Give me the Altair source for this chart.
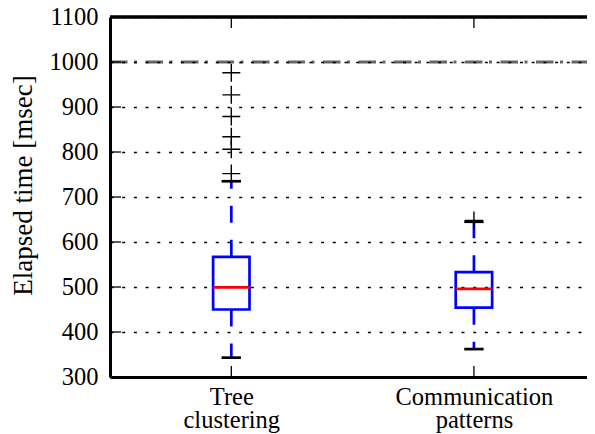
import altair as alt
import pandas as pd

# ---- data ----
categories = ["Tree clustering", "Communication patterns"]
positions = [1, 2]
q1 = [450, 454]
medians = [499, 496]
q3 = [567, 533]
whisker_low = [343, 362]
whisker_high = [735, 645]
fliers_tree = [752, 806, 834, 879, 927, 976]
fliers_comm = [648]
reference_level = [1000]
y_ticks = [300, 400, 500, 600, 700, 800, 900, 1000, 1100]

# ---- styling ----
W, H = 477, 360
FONT = "Liberation Serif"
BOX_HALF = 0.075
CAP_HALF = 0.04
LW = 2.7

boxes = pd.DataFrame({
    "cat": categories, "pos": positions, "q1": q1, "med": medians,
    "q3": q3, "lo": whisker_low, "hi": whisker_high,
})
boxes["xl"] = boxes["pos"] - BOX_HALF
boxes["xr"] = boxes["pos"] + BOX_HALF

whiskers = pd.concat([
    pd.DataFrame({"pos": positions, "start": q3, "end": whisker_high}),
    pd.DataFrame({"pos": positions, "start": q1, "end": whisker_low}),
], ignore_index=True)
whiskers["cl"] = whiskers["pos"] - CAP_HALF
whiskers["cr"] = whiskers["pos"] + CAP_HALF

fliers = pd.DataFrame({
    "pos": [positions[0]] * len(fliers_tree) + [positions[1]] * len(fliers_comm),
    "val": fliers_tree + fliers_comm,
})
ref = pd.DataFrame({"val": reference_level})
yt = pd.DataFrame({"val": y_ticks})
xt = pd.DataFrame({"pos": positions})

label_expr = ("datum.value == 1 ? ['Tree', 'clustering'] : "
              "(datum.value == 2 ? ['Communication', 'patterns'] : '')")

xscale = alt.Scale(domain=[0.5, 2.466], nice=False, zero=False)
yscale = alt.Scale(domain=[300, 1100], nice=False, zero=False)

xaxis = alt.Axis(values=positions, labelExpr=label_expr, title=None, grid=False,
                 tickSize=0, labelPadding=8, labelFont=FONT, labelFontSize=24.5,
                 labelColor="black", labelLineHeight=23, domainColor="black",
                 domainWidth=3)
yaxis = alt.Axis(values=y_ticks, format="d", title="Elapsed time [msec]", grid=True,
                 gridColor="black", gridDash=[3, 8.7], gridWidth=1.5,
                 gridOpacity=1, tickSize=0, labelPadding=12, labelFont=FONT,
                 labelFontSize=24.5, labelColor="black", titleFont=FONT,
                 titleFontSize=27, titleFontWeight="normal", titleColor="black",
                 titleX=-87, titleY=168, titleAngle=-90, titleAlign="center",
                 titleBaseline="middle", domainColor="black", domainWidth=3)

base_x = alt.X("pos:Q", scale=xscale, axis=xaxis)

grid_layer = alt.Chart(yt).mark_rule(opacity=0).encode(
    x=base_x, y=alt.Y("val:Q", scale=yscale, axis=yaxis))

ref_layer = alt.Chart(ref).mark_rule(
    color="black", opacity=0.6, strokeWidth=3, strokeDash=[17.5, 6.5, 3, 8.5]
).encode(y=alt.Y("val:Q", scale=yscale), x=alt.value(0), x2=alt.value(W))

whisk_layer = alt.Chart(whiskers).mark_rule(
    color="#0000ff", strokeWidth=LW, strokeDash=[17, 17]
).encode(x=alt.X("pos:Q", scale=xscale),
         y=alt.Y("start:Q", scale=yscale), y2="end:Q")

cap_layer = alt.Chart(whiskers).mark_rule(color="black", strokeWidth=LW).encode(
    x=alt.X("cl:Q", scale=xscale), x2="cr:Q", y=alt.Y("end:Q", scale=yscale))

box_layer = alt.Chart(boxes).mark_rect(
    fillOpacity=0, stroke="#0000ff", strokeWidth=LW
).encode(x=alt.X("xl:Q", scale=xscale), x2="xr:Q",
         y=alt.Y("q1:Q", scale=yscale), y2="q3:Q")

med_layer = alt.Chart(boxes).mark_rule(color="#ff0000", strokeWidth=LW).encode(
    x=alt.X("xl:Q", scale=xscale), x2="xr:Q", y=alt.Y("med:Q", scale=yscale))

flier_layer = alt.Chart(fliers).mark_point(
    shape="M-1,0H1M0,-1V1", size=324, filled=False, color="black",
    strokeWidth=1.4, opacity=1
).encode(x=alt.X("pos:Q", scale=xscale), y=alt.Y("val:Q", scale=yscale))

ytick_layer = alt.Chart(yt).mark_rule(color="black", strokeWidth=1.3).encode(
    y=alt.Y("val:Q", scale=yscale), x=alt.value(0), x2=alt.value(11))

xtick_bottom = alt.Chart(xt).mark_rule(color="black", strokeWidth=1.3).encode(
    x=alt.X("pos:Q", scale=xscale), y=alt.value(H), y2=alt.value(H - 11))

xtick_top = alt.Chart(xt).mark_rule(color="black", strokeWidth=1.3).encode(
    x=alt.X("pos:Q", scale=xscale), y=alt.value(0), y2=alt.value(11))

top_spine = alt.Chart(xt).mark_rule(color="black", strokeWidth=3).encode(
    x=alt.value(0), x2=alt.value(W), y=alt.value(0))

chart = alt.layer(
    grid_layer, ref_layer, whisk_layer, cap_layer, box_layer, med_layer,
    flier_layer, ytick_layer, xtick_bottom, xtick_top, top_spine,
).properties(
    width=W, height=H,
    autosize=alt.AutoSizeParams(type="none"),
    padding={"left": 102, "top": 9, "right": 0, "bottom": 56},
    background="white",
).configure_view(strokeWidth=0, stroke="transparent")

chart.save("out.html", embed_options={"renderer": "svg", "actions": False})
